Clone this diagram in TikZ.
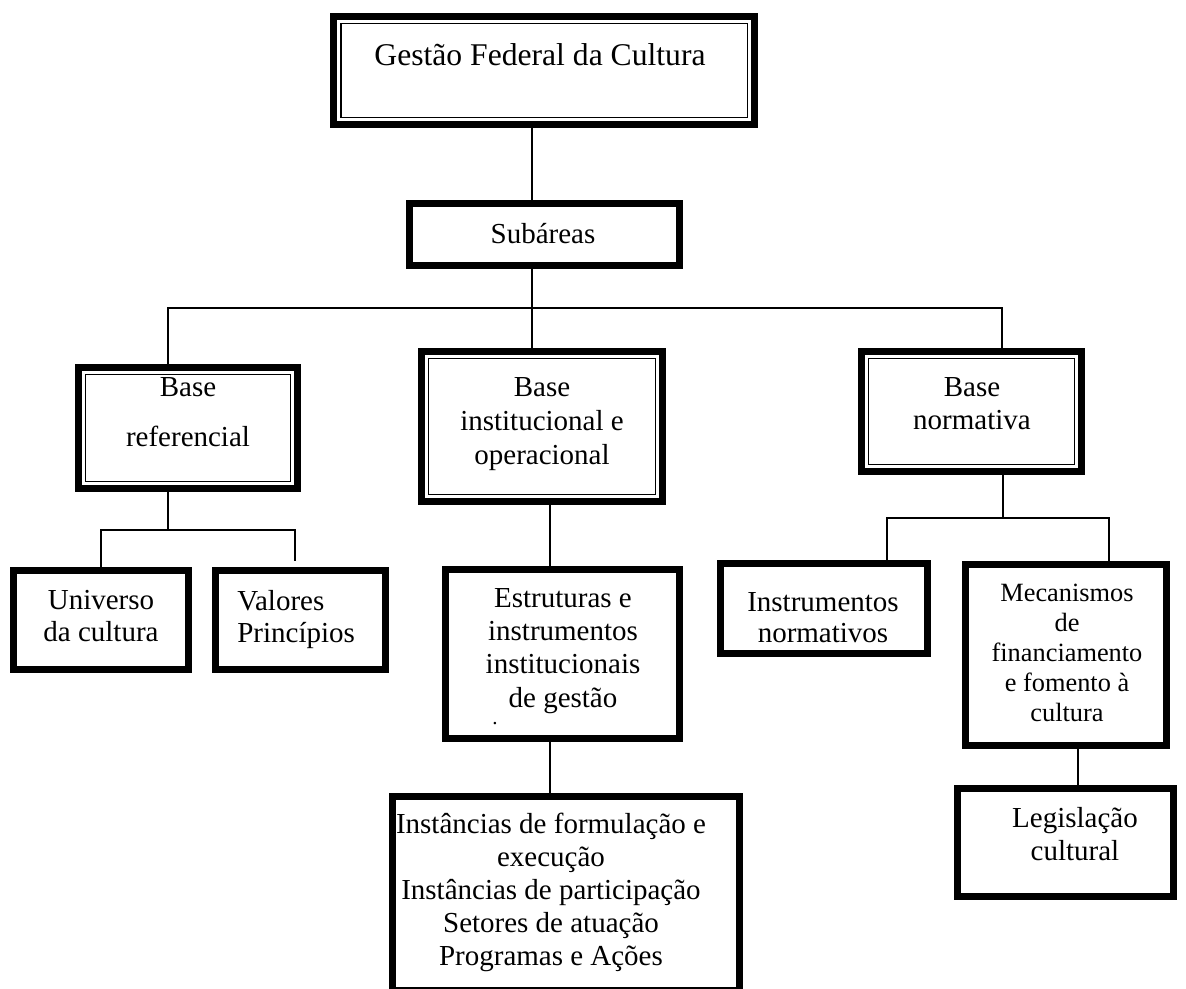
\documentclass[tikz,border=0pt]{standalone}
\usepackage{fontspec}
\setmainfont{Liberation Serif}
\usepackage{tikz}
\usetikzlibrary{positioning}

\begin{document}
\begin{tikzpicture}[x=0.02cm, y=-0.02cm,
  box/.style={draw, rectangle, line width=3.7pt, inner sep=0pt},
  dbox/.style={box, path picture={\draw[line width=1.1pt]
      ([shift={(0.145cm,0.145cm)}]path picture bounding box.south west) rectangle
      ([shift={(-0.145cm,-0.145cm)}]path picture bounding box.north east);}},
  txt/.style={anchor=north, align=center, inner sep=0pt, font=\fontsize{16.5}{18.7}\selectfont},
  link/.style={line width=1.1pt}]
  \useasboundingbox (0,0) rectangle (1186,989);
  % Boxes
  \node[dbox, minimum width=8.43cm, minimum height=2.17cm] (title) at (544,70.5) {};
  \node[box,  minimum width=5.41cm, minimum height=1.25cm] (sub)   at (544.5,234.5) {};
  \node[dbox, minimum width=4.39cm, minimum height=2.43cm] (bref)  at (188,428) {};
  \node[dbox, minimum width=4.83cm, minimum height=3.01cm] (binst) at (542,426.5) {};
  \node[dbox, minimum width=4.41cm, minimum height=2.41cm] (bnorm) at (971.5,411.5) {};
  \node[box,  minimum width=3.51cm, minimum height=1.99cm] (univ)  at (101,620) {};
  \node[box,  minimum width=3.41cm, minimum height=1.99cm] (valo)  at (300.5,620) {};
  \node[box,  minimum width=4.69cm, minimum height=3.39cm] (estr)  at (562.5,654) {};
  \node[box,  minimum width=4.15cm, minimum height=1.81cm] (inst)  at (824,608.5) {};
  \node[box,  minimum width=4.03cm, minimum height=3.63cm] (meca)  at (1066,655) {};
  \node[box,  minimum width=4.33cm, minimum height=2.17cm] (legi)  at (1065.5,842.5) {};
  \node[box,  minimum width=6.95cm, minimum height=3.89cm] (form)  at (566,893.5) {};
  % Texts
  \node[txt, font=\fontsize{18}{20}\selectfont] (title-t) at (540,43.4) {Gestão Federal da Cultura};
  \node[txt] (sub-t) at (543,223.2) {Subáreas};
  \node[txt, font=\fontsize{16.5}{28.3}\selectfont] (bref-t) at (188,377.2) {Base\\referencial};
  \node[txt, font=\fontsize{16.5}{19.3}\selectfont] (binst-t) at (542,377.2) {Base\\institucional e\\operacional};
  \node[txt] (bnorm-t) at (972,377.2) {Base\\normativa};
  \node[txt, font=\fontsize{16.5}{18.1}\selectfont] (univ-t) at (101,590.2) {Universo\\da cultura};
  \node[txt, anchor=north west, align=left, font=\fontsize{16.5}{18.1}\selectfont] (valo-t) at (237,590.2) {Valores\\Princípios};
  \node[txt, font=\fontsize{16.5}{18.9}\selectfont] (estr-t) at (563,588.2) {Estruturas e\\instrumentos\\institucionais\\de gestão};
  \node[font=\fontsize{12}{12}\selectfont, inner sep=0pt] (estr-dot) at (495,724) {.};
  \node[txt, font=\fontsize{16.5}{17.6}\selectfont] (inst-t) at (823,592.2) {Instrumentos\\normativos};
  \node[txt, font=\fontsize{15}{17.1}\selectfont] (meca-t) at (1067,584) {Mecanismos\\de\\financiamento\\e fomento à\\cultura};
  \node[txt] (legi-t) at (1075,807.2) {Legislação\\cultural};
  \node[txt] (form-t) at (551,813.2) {Instâncias de formulação e\\execução\\Instâncias de participação\\Setores de atuação\\Programas e Ações};
  % Bus points
  \coordinate (spine) at (532,308);
  \coordinate (busL)  at (168,308);
  \coordinate (busR)  at (1002,308);
  \coordinate (forkL)  at (168,530);
  \coordinate (forkLa) at (101,530);
  \coordinate (forkLb) at (295,530);
  \coordinate (stubL)  at (295,561);
  \coordinate (midcol) at (550,0);
  \coordinate (forkR)  at (1003,518);
  \coordinate (forkRa) at (887,518);
  \coordinate (forkRb) at (1109,518);
  \coordinate (legcol) at (1078,0);
  % Connectors
  \draw[link] (title.south -| spine) -- (sub.north -| spine);
  \draw[link] (sub.south -| spine) -- (binst.north -| spine);
  \draw[link] (bref.north -| busL) -- (busL) -- (busR) -- (bnorm.north -| busR);
  \draw[link] (bref.south -| forkL) -- (forkL);
  \draw[link] (univ.north -| forkLa) -- (forkLa) -- (forkLb) -- (stubL);
  \draw[link] (binst.south -| midcol) -- (estr.north -| midcol);
  \draw[link] (estr.south -| midcol) -- (form.north -| midcol);
  \draw[link] (bnorm.south -| forkR) -- (forkR);
  \draw[link] (inst.north -| forkRa) -- (forkRa) -- (forkRb) -- (meca.north -| forkRb);
  \draw[link] (meca.south -| legcol) -- (legi.north -| legcol);
\end{tikzpicture}
\end{document}
